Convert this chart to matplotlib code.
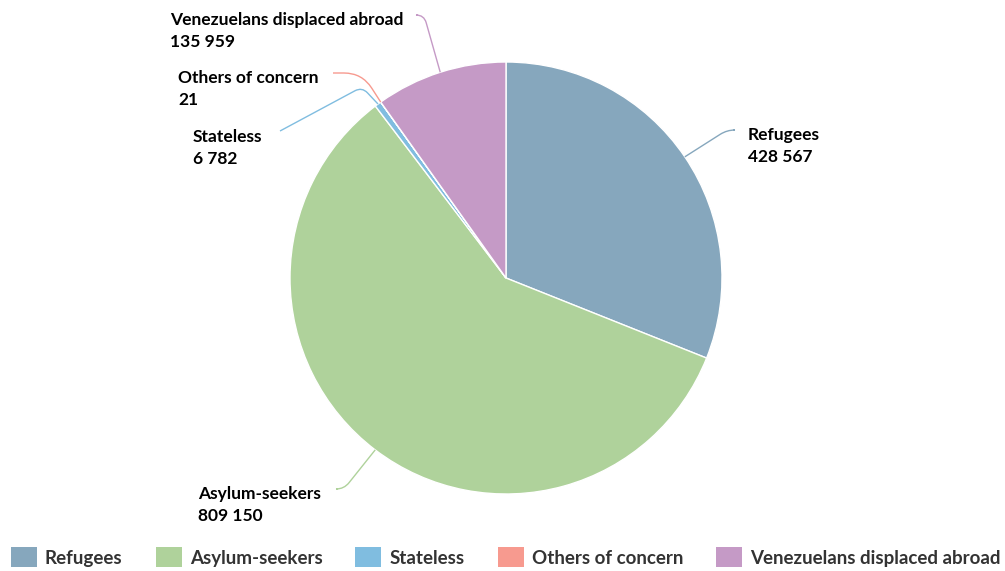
import numpy as np
import matplotlib
matplotlib.use("Agg")
import matplotlib.pyplot as plt
from matplotlib.path import Path
from matplotlib.patches import PathPatch, Rectangle

W, H = 1005, 571

categories = ["Refugees", "Asylum-seekers", "Stateless", "Others of concern",
              "Venezuelans displaced abroad"]
values = [428567, 809150, 6782, 21, 135959]
colors = ["#86a7bd", "#afd29b", "#80bde0", "#f79a8f", "#c59ac6"]

# label layout (pixel coords, y downward): text x, first baseline, bend, end
label_layout = {
    "Refugees": dict(tx=748, by=140, bend=(727, 130), end=(733, 130), rad=8),
    "Asylum-seekers": dict(tx=198, by=499, bend=(344, 489), end=(338, 489), rad=8),
    "Stateless": dict(tx=193, by=142, bend=(362, 87), end=(280, 131), rad=8),
    "Others of concern": dict(tx=178, by=83, bend=(362, 73), end=(333, 73), rad=18),
    "Venezuelans displaced abroad": dict(tx=170, by=25, bend=(424, 15), end=(418, 15), rad=8),
}

plt.rcParams['font.family'] = ['Lato', 'DejaVu Sans']

fig = plt.figure(figsize=(W / 100, H / 100), dpi=100)
ax = fig.add_axes([0, 0, 1, 1])

def P(x, y):
    return (x, H - y)

cx, cy, R = 506, 278, 216
wedges, _ = ax.pie(values, colors=colors, startangle=90, counterclock=False,
                   center=P(cx, cy), radius=R,
                   wedgeprops=dict(edgecolor="white", linewidth=1.0))
ax.set_xlim(0, W)
ax.set_ylim(0, H)
ax.set_aspect("equal")
ax.axis("off")


def unit(v):
    v = np.asarray(v, float)
    n = np.hypot(*v)
    return v / n if n > 0 else v

for w, cat, val, col in zip(wedges, categories, values, colors):
    lay = label_layout[cat]
    mid = np.deg2rad((w.theta1 + w.theta2) / 2)
    edge = np.array(P(cx, cy)) + R * np.array([np.cos(mid), np.sin(mid)])
    bend = np.array(P(*lay["bend"]), float)
    end = np.array(P(*lay["end"]), float)
    a = bend + unit(edge - bend) * lay["rad"]
    b = bend + unit(end - bend) * lay["rad"]
    verts = [edge, a, bend, b, end]
    codes = [Path.MOVETO, Path.LINETO, Path.CURVE3, Path.CURVE3, Path.LINETO]
    ax.add_patch(PathPatch(Path(verts, codes), facecolor="none", edgecolor=col,
                           lw=1.0, zorder=1))
    ax.text(*P(lay["tx"], lay["by"]), cat, fontsize=12.5, fontweight="bold",
            color="#000000", ha="left", va="baseline")
    ax.text(*P(lay["tx"], lay["by"] + 22), f"{val:,}".replace(",", " "),
            fontsize=12.5, fontweight="bold", color="#000000",
            ha="left", va="baseline")

# legend
renderer = fig.canvas.get_renderer()
x = 11
for cat, col in zip(categories, colors):
    ax.add_patch(Rectangle(P(x, 567), 26, 20, facecolor=col, edgecolor="none"))
    t = ax.text(*P(x + 34, 564), cat, fontsize=13.5, fontweight="bold",
                color="#333333", ha="left", va="baseline")
    tw = t.get_window_extent(renderer=renderer).width
    x = x + 34 + tw + 33

fig.savefig("out.png", dpi=100, facecolor="white")
